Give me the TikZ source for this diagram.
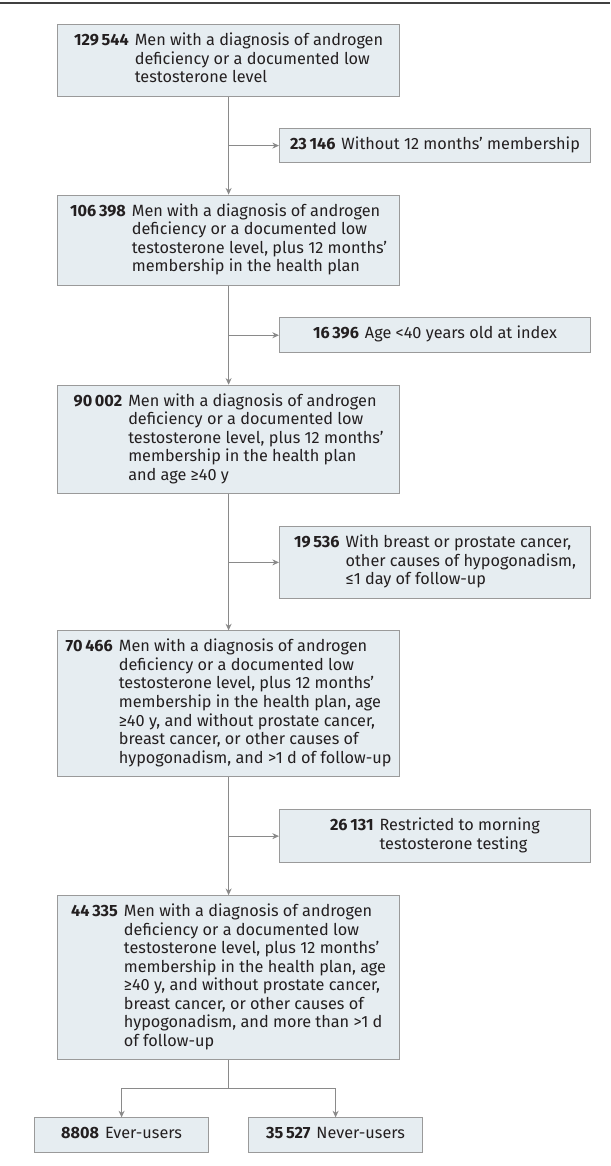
\documentclass[tikz,border=0pt]{standalone}
\usepackage{fontspec}
\setmainfont{Fira Sans}
\usepackage{tikz}
\usetikzlibrary{positioning,arrows.meta}
\definecolor{cajafondo}{HTML}{E6EDF1}
\definecolor{cajaborde}{HTML}{9A9A9A}
\definecolor{flechagris}{HTML}{8A8A8A}
\definecolor{textogris}{HTML}{231F20}
\newcommand{\Cuenta}[2]{\begin{tabular}{@{}r@{\hspace{4.5pt}}l@{}}\textbf{#1} & \begin{tabular}[t]{@{}l@{}}#2\end{tabular}\end{tabular}}
\tikzstyle{CohortBox}=[rectangle, draw=cajaborde, fill=cajafondo, line width=0.75pt, minimum width=256.5pt, inner xsep=0pt, inner ysep=6pt, text=textogris, font=\fontsize{12.2pt}{13.9pt}\selectfont]
\tikzstyle{ExclusionBox}=[CohortBox, minimum width=233.25pt]
\tikzstyle{UserBox}=[CohortBox, minimum width=130.5pt]
\tikzstyle{Flecha}=[-{Stealth[length=5pt,width=4.5pt]}, draw=flechagris, line width=0.75pt]
\tikzstyle{Enlace}=[draw=flechagris, line width=0.75pt]

\begin{document}
\begin{tikzpicture}
			\useasboundingbox (0,0) rectangle (457.5pt,-874.5pt);
			\draw[line width=1.1pt, black!75] (0,-2.25pt) -- (457.5pt,-2.25pt);

			%Cajas
			\node[CohortBox, anchor=north]	(box1)	at (171.45pt,-18pt)	{\Cuenta{129\,544}{Men with a diagnosis of androgen\\deficiency or a documented low\\testosterone level}};
			\node[CohortBox]		(box2)	[below=73.5pt of box1]		{\Cuenta{106\,398}{Men with a diagnosis of androgen\\deficiency or a documented low\\testosterone level, plus 12 months’\\membership in the health plan}};
			\node[CohortBox]		(box3)	[below=74.25pt of box2]		{\Cuenta{90\,002}{Men with a diagnosis of androgen\\deficiency or a documented low\\testosterone level, plus 12 months’\\membership in the health plan\\and age ≥40 y}};
			\node[CohortBox]		(box4)	[below=102pt of box3]		{\Cuenta{70\,466}{Men with a diagnosis of androgen\\deficiency or a documented low\\testosterone level, plus 12 months’\\membership in the health plan, age\\≥40 y, and without prostate cancer,\\breast cancer, or other causes of\\hypogonadism, and >1 d of follow-up}};
			\node[CohortBox]		(box5)	[below=88.5pt of box4]		{\Cuenta{44\,335}{Men with a diagnosis of androgen\\deficiency or a documented low\\testosterone level, plus 12 months’\\membership in the health plan, age\\≥40 y, and without prostate cancer,\\breast cancer, or other causes of\\hypogonadism, and more than >1 d\\of follow-up}};

			\coordinate[below=36.75pt of box1]	(j1);
			\coordinate[below=37.125pt of box2]	(j2);
			\coordinate[below=51pt of box3]		(j3);
			\coordinate[below=44.25pt of box4]	(j4);
			\coordinate[below=21pt of box5]		(split);

			\node[ExclusionBox]	(ex1)	[right=37.8pt of j1]	{\Cuenta{23\,146}{Without 12 months’ membership}};
			\node[ExclusionBox]	(ex2)	[right=37.8pt of j2]	{\Cuenta{16\,396}{Age <40 years old at index}};
			\node[ExclusionBox]	(ex3)	[right=37.8pt of j3]	{\Cuenta{19\,536}{With breast or prostate cancer,\\other causes of hypogonadism,\\≤1 day of follow-up}};
			\node[ExclusionBox]	(ex4)	[right=37.8pt of j4]	{\Cuenta{26\,131}{Restricted to morning\\testosterone testing}};

			\node[UserBox]		(ever)	[below=42.75pt of box5, xshift=-80.25pt]	{\Cuenta{8808}{Ever-users}};
			\node[UserBox]		(never)	[below=42.75pt of box5, xshift=80.25pt]	{\Cuenta{35\,527}{Never-users}};

			%Flechas
			\draw[Flecha] (box1.south) -- (box2.north);
			\draw[Flecha] (box2.south) -- (box3.north);
			\draw[Flecha] (box3.south) -- (box4.north);
			\draw[Flecha] (box4.south) -- (box5.north);
			\draw[Flecha] (j1) -- (ex1.west);
			\draw[Flecha] (j2) -- (ex2.west);
			\draw[Flecha] (j3) -- (ex3.west);
			\draw[Flecha] (j4) -- (ex4.west);
			\draw[Enlace] (box5.south) -- (split);
			\draw[Flecha] (split) -| (ever.north);
			\draw[Flecha] (split) -| (never.north);

		\end{tikzpicture}
\end{document}
